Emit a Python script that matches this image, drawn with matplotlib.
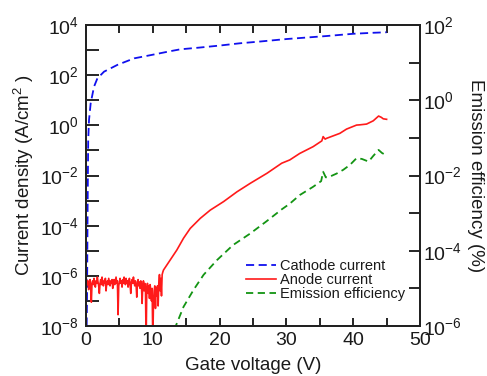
import numpy as np
import matplotlib
matplotlib.use("Agg")
import matplotlib.pyplot as plt
from matplotlib.lines import Line2D

plt.rcParams['font.family'] = ['Liberation Sans', 'DejaVu Sans']
plt.rcParams['mathtext.fontset'] = 'custom'
plt.rcParams['mathtext.rm'] = 'Liberation Sans'
plt.rcParams['mathtext.it'] = 'Liberation Sans:italic'
plt.rcParams['mathtext.bf'] = 'Liberation Sans:bold'

# ---------------- data ----------------
cath_v = [0, 0.15, 0.25, 0.33, 0.45, 0.7, 1.2, 1.7, 2.7, 4.7, 7.2, 9.7, 12.7, 14.1, 17, 20,
          23, 26, 30, 33, 36, 40, 43, 45]
cath_logj = [-10, -7, -3, -0.6, 0.21, 0.88, 1.54, 1.87, 2.14, 2.41, 2.67, 2.80, 2.96, 3.03,
             3.1, 3.18, 3.27, 3.34, 3.44, 3.5, 3.56, 3.65, 3.69, 3.71]

# anode current: noisy floor sampled every 0.1 V from 0 to 11.5 V
anode_floor_v = np.round(np.arange(0.0, 11.55, 0.1), 1)
anode_floor_logj = [
    -6.05, -6.2, -6.35, -6.2, -6.55, -6.3, -6.15, -6.4, -7.05, -6.3,
    -6.2, -6.35, -6.1, -6.3, -6.45, -6.2, -6.3, -6.05, -6.25, -6.4,
    -6.7, -6.3, -6.15, -6.35, -6.05, -6.25, -6.4, -6.2, -6.3, -6.1,
    -6.6, -6.3, -6.2, -6.35, -6.1, -6.25, -6.4, -6.2, -6.3, -6.15,
    -6.5, -6.25, -6.15, -6.35, -6.2, -6.05, -6.3, -6.2, -7.55, -6.4,
    -6.25, -6.1, -6.3, -6.2, -6.45, -6.15, -6.3, -6.05, -6.25, -6.35,
    -6.1, -6.3, -6.2, -6.45, -6.25, -6.1, -6.35, -6.7, -6.25, -6.15,
    -6.3, -6.05, -6.25, -6.4, -6.2, -6.35, -6.85, -6.3, -6.15, -6.4,
    -6.25, -6.5, -6.2, -6.35, -7.1, -6.4, -6.2, -6.6, -6.3, -6.5,
    -8.6, -6.5, -6.3, -6.7, -6.4, -6.9, -6.35, -6.6, -7.0, -6.5,
    -8.6, -7.1, -6.6, -6.4, -7.3, -6.5, -6.8, -6.4, -7.2, -6.3,
    -5.95, -6.6, -6.1, -6.8, -5.95, -5.85]
# anode current: emission region
anode_rise_v = [11.6, 12.6, 13.6, 14.6, 15.6, 17.1, 18.6, 20.6, 22.6, 24.6, 27.1, 29.3, 30.5,
                32, 34, 35.3, 35.5, 35.8, 36, 38, 39, 40.5, 41, 42, 43, 43.8, 44.2, 44.5, 45]
anode_rise_logj = [-5.77, -5.37, -4.97, -4.5, -4.11, -3.71, -3.38, -3.04, -2.65, -2.31, -1.91,
                   -1.51, -1.38, -1.12, -0.85, -0.62, -0.45, -0.55, -0.52, -0.32, -0.15, 0.01,
                   0.02, 0.05, 0.18, 0.37, 0.32, 0.26, 0.24]

eff_v = [13.2, 13.6, 14.6, 16.1, 17.6, 19.6, 22, 24.6, 27, 29.3, 30.5, 32, 34, 35.2, 35.5,
         35.9, 36.5, 37.5, 38.5, 39.5, 40.5, 41.3, 42.3, 43, 43.8, 44.3, 44.8]
eff_log = [-6.1, -5.93, -5.49, -5.04, -4.64, -4.25, -3.85, -3.54, -3.22, -2.9, -2.75, -2.52,
           -2.30, -2.15, -1.90, -2.05, -2.03, -1.95, -1.85, -1.72, -1.54, -1.56, -1.63,
           -1.48, -1.32, -1.40, -1.45]

left_exps = list(range(-8, 5))
right_exps = list(range(-6, 3))
x_ticks = [0, 10, 20, 30, 40, 50]

# ---------------- figure ----------------
fig = plt.figure(figsize=(4.87, 3.76), dpi=100)
ax = fig.add_axes([86/487, 50/376, 334/487, 301/376])
ax2 = ax.twinx()

blue = '#1010ee'
red = '#ff1a1a'
green = '#139413'

anode_v = np.concatenate([anode_floor_v, anode_rise_v])
anode_logj = np.concatenate([anode_floor_logj, anode_rise_logj])

ax.plot(cath_v, 10.0**np.array(cath_logj), color=blue, lw=1.3, dashes=(4.5, 2.5))
ax.plot(anode_v, 10.0**anode_logj, color=red, lw=1.2)
ax2.plot(eff_v, 10.0**np.array(eff_log), color=green, lw=1.3, dashes=(4.0, 2.5))

ax.set_yscale('log')
ax2.set_yscale('log')
ax.set_xlim(0, 50)
ax.set_ylim(1e-8, 1e4)
ax2.set_ylim(1e-6, 1e2)

txtc = '#1a1a1a'
fs = 14
lfs = 13.5

ax.set_xticks(x_ticks)
ax.set_xticks([5, 15, 25, 35, 45], minor=True)
ax.set_xticklabels([str(t) for t in x_ticks], fontsize=fs, color=txtc)

ax.set_yticks([10.0**e for e in left_exps])
ax.set_yticklabels([r'$\mathregular{10^{%d}}$' % e if e % 2 == 0 else '' for e in left_exps],
                   fontsize=fs, color=txtc)
ax.yaxis.set_minor_locator(matplotlib.ticker.NullLocator())
ax2.set_yticks([10.0**e for e in right_exps])
ax2.set_yticklabels([r'$\mathregular{10^{%d}}$' % e if e % 2 == 0 else '' for e in right_exps],
                    fontsize=fs, color=txtc)
ax2.yaxis.set_minor_locator(matplotlib.ticker.NullLocator())

ax.tick_params(axis='x', which='both', direction='in', top=True, length=6, width=1.2, pad=4)
ax.tick_params(axis='y', which='both', direction='in', length=9, width=1.2, pad=5)
ax2.tick_params(axis='y', which='both', direction='in', length=8, width=1.2, pad=2)

for a in (ax, ax2):
    for s in a.spines.values():
        s.set_linewidth(1.4)
        s.set_color('#222222')

ax.set_xlabel('Gate voltage (V)', fontsize=lfs, color=txtc, labelpad=6)
ax.set_ylabel(r'Current density (A/cm$^{2}$ )', fontsize=lfs, color=txtc, labelpad=3)
ax2.set_ylabel('Emission efficiency (%)', fontsize=lfs, color=txtc, rotation=270, labelpad=16)

handles = [Line2D([], [], color=blue, lw=1.3, dashes=(4.5, 2.5)),
           Line2D([], [], color=red, lw=1.2),
           Line2D([], [], color=green, lw=1.3, dashes=(4.0, 2.5))]
labels = ['Cathode current', 'Anode current', 'Emission efficiency']
leg = ax2.legend(handles, labels, loc='lower left', bbox_to_anchor=(0.478, 0.083),
                 frameon=False, fontsize=10.5, borderpad=0, borderaxespad=0,
                 handlelength=2.1, handletextpad=0.25, labelspacing=0.0)
for t in leg.get_texts():
    t.set_color(txtc)

fig.savefig('out.png', dpi=100)
